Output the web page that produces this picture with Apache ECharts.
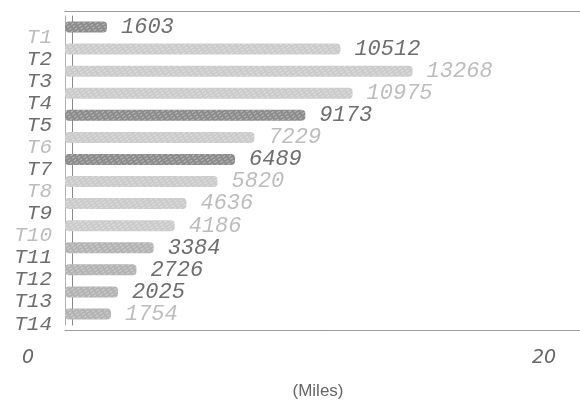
<!DOCTYPE html>
<html>
<head>
<meta charset="utf-8">
<script src="https://cdn.jsdelivr.net/npm/echarts@6/dist/echarts.min.js"></script>
<style>
  html, body { margin: 0; padding: 0; background: #fff; }
  #chart { width: 580px; height: 400px; }
</style>
</head>
<body>
<div id="chart"></div>
<script>
  // data
  const trips = ['T1', 'T2', 'T3', 'T4', 'T5', 'T6', 'T7', 'T8', 'T9', 'T10', 'T11', 'T12', 'T13', 'T14']
  const miles = [1603, 10512, 13268, 10975, 9173, 7229, 6489, 5820, 4636, 4186, 3384, 2726, 2025, 1754]
  const xTickValues = [0, 20000]

  // shading per row (kept apart from the values)
  const barTone = ['dark', 'light', 'light', 'light', 'dark', 'light', 'dark', 'light', 'light', 'light', 'mid', 'mid', 'mid', 'mid']
  const nameTone = ['light', 'dark', 'dark', 'dark', 'dark', 'light', 'dark', 'light', 'dark', 'light', 'dark', 'dark', 'dark', 'dark']
  const valueTone = ['dark', 'dark', 'light', 'light', 'dark', 'light', 'dark', 'light', 'light', 'light', 'dark', 'dark', 'dark', 'light']

  const barColor = { dark: '#8c8c8c', light: '#cbcbcb', mid: '#b3b3b3' }
  const textColor = { dark: '#6e6e6e', light: '#bdbdbd' }
  const mono = 'Liberation Mono'

  let chart = echarts.init(document.getElementById('chart'))

  chart.setOption({
    animation: false,
    grid: {
      left: 65,
      right: -9,
      top: 16,
      bottom: 75,
      outerBoundsMode: 'none',
    },
    xAxis: [
      {
        type: 'value',
        min: xTickValues[0],
        max: xTickValues[1],
        interval: xTickValues[1] - xTickValues[0],
        position: 'bottom',
        offset: 5,
        axisLine: { show: true, lineStyle: { color: '#9a9a9a' } },
        axisTick: { show: false },
        splitLine: { show: false },
        axisLabel: {
          margin: 19,
          formatter: function (v) {
            return v === 0 ? '{a|0}' : '{b|' + v / 1000 + '}'
          },
          rich: {
            a: { padding: [0, 74, 0, 0], fontFamily: 'DejaVu Sans', fontStyle: 'italic', fontSize: 19, color: '#666' },
            b: { padding: [0, 90, 0, 0], fontFamily: 'DejaVu Sans', fontStyle: 'italic', fontSize: 19, color: '#666' },
          },
        },
        name: '(Miles)',
        nameLocation: 'middle',
        nameGap: 53,
        nameTextStyle: {
          fontFamily: 'Liberation Sans',
          fontSize: 17,
          color: '#666',
          padding: [0, 18, 0, 0],
        },
      },
      {
        type: 'value',
        min: xTickValues[0],
        max: xTickValues[1],
        position: 'top',
        offset: 5,
        axisLine: { show: true, lineStyle: { color: '#9a9a9a' } },
        axisTick: { show: false },
        axisLabel: { show: false },
        splitLine: { show: false },
      },
    ],
    yAxis: [
      {
        type: 'category',
        data: trips,
        inverse: true,
        position: 'left',
        offset: 3,
        axisLine: { show: true, lineStyle: { color: '#b0b0b0' } },
        axisTick: { show: false },
        axisLabel: {
          interval: 0,
          margin: 10,
          verticalAlign: 'top',
          lineHeight: 20,
          fontFamily: mono,
          fontStyle: 'italic',
          fontSize: 21,
          color: function (value, index) {
            return textColor[nameTone[trips.indexOf(value)]]
          },
        },
      },
      {
        type: 'category',
        data: trips,
        inverse: true,
        position: 'left',
        offset: -7,
        axisLine: { show: true, lineStyle: { color: '#8a8a8a' } },
        axisTick: { show: false },
        axisLabel: { show: false },
      },
    ],
    series: [
      {
        type: 'bar',
        xAxisIndex: 0,
        yAxisIndex: 0,
        barWidth: 11,
        z: 1,
        itemStyle: {
          borderRadius: 4,
          decal: {
            symbol: 'rect',
            color: 'rgba(255,255,255,0.4)',
            dashArrayX: [[3, 2]],
            dashArrayY: [1, 2],
            rotation: -0.6,
            symbolSize: 1,
          },
        },
        label: {
          show: true,
          position: 'right',
          distance: 14,
          fontFamily: mono,
          fontStyle: 'italic',
          fontSize: 22,
        },
        data: miles.map((v, i) => ({
          value: v,
          itemStyle: { color: barColor[barTone[i]] },
          label: { color: textColor[valueTone[i]] },
        })),
      },
    ],
  })
</script>
</body>
</html>
